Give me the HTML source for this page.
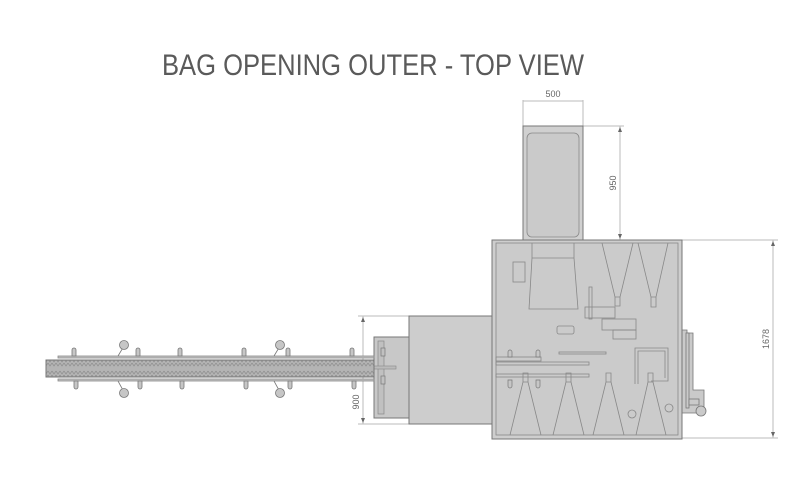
<!DOCTYPE html>
<html><head><meta charset="utf-8"><style>
html,body{margin:0;padding:0;background:#fff;}
svg{display:block;font-family:"Liberation Sans",sans-serif;}
</style></head><body>
<svg width="800" height="499" viewBox="0 0 800 499" xmlns="http://www.w3.org/2000/svg">
<defs>
<pattern id="zz" width="4" height="16" patternUnits="userSpaceOnUse">
<rect width="4" height="16" fill="#b4b4b4"/>
<path d="M0 3 L2 6 L4 3 M0 7 L2 10 L4 7 M0 11 L2 14 L4 11" stroke="#8e8e8e" fill="none" stroke-width="0.7"/>
</pattern>
</defs>
<text x="162" y="75" font-size="30" fill="#5a5a5a" textLength="422" lengthAdjust="spacingAndGlyphs">BAG OPENING OUTER - TOP VIEW</text>

<g stroke="#bbb" stroke-width="1" fill="none">
<line x1="523" y1="100" x2="523" y2="126"/><line x1="583" y1="100" x2="583" y2="126"/>
<line x1="523" y1="101" x2="583" y2="101"/>
<line x1="583" y1="126" x2="624" y2="126"/>
<line x1="620" y1="126" x2="620" y2="240"/>
<line x1="682" y1="240" x2="778" y2="240"/>
<line x1="682" y1="438" x2="778" y2="438"/>
<line x1="773" y1="240" x2="773" y2="438"/>
<line x1="358" y1="316" x2="409" y2="316"/>
<line x1="358" y1="424" x2="409" y2="424"/>
<line x1="363" y1="316" x2="363" y2="424"/>
</g>
<g fill="#666">
<path d="M620 127 l-2 5 h4z"/><path d="M620 239 l-2 -5 h4z"/>
<path d="M773 241 l-2 5 h4z"/><path d="M773 437 l-2 -5 h4z"/>
<path d="M363 317 l-2 5 h4z"/><path d="M363 423 l-2 -5 h4z"/>
</g>
<g font-size="9" fill="#666">
<text x="553" y="97" text-anchor="middle">500</text>
<text transform="translate(616,183) rotate(-90)" text-anchor="middle">950</text>
<text transform="translate(769,339) rotate(-90)" text-anchor="middle">1678</text>
<text transform="translate(359,402) rotate(-90)" text-anchor="middle">900</text>
</g>

<rect x="523" y="126" width="60" height="114" fill="#d0d0d0" stroke="#777"/>
<rect x="527" y="133" width="52" height="104" rx="5" fill="#cacaca" stroke="#888" stroke-width="0.8"/>

<rect x="409" y="316" width="83" height="108" fill="#cdcdcd" stroke="#777"/>
<rect x="374" y="337" width="35" height="81" fill="#c8c8c8" stroke="#777"/>
<rect x="378" y="341" width="6" height="73" fill="#c0c0c0" stroke="#888" stroke-width="0.7"/>
<rect x="381" y="348" width="4" height="8" fill="#c0c0c0" stroke="#777" stroke-width="0.7"/>
<rect x="381" y="376" width="4" height="8" fill="#c0c0c0" stroke="#777" stroke-width="0.7"/>
<rect x="374" y="366" width="22" height="3" fill="#bbb" stroke="#888" stroke-width="0.6"/>

<g stroke="#888" stroke-width="0.8" fill="#c6c6c6">
<rect x="58" y="356" width="316" height="2"/>
<rect x="58" y="379" width="316" height="2"/>
</g>
<rect x="46" y="360" width="328" height="17" fill="url(#zz)" stroke="#777"/>
<g fill="#c6c6c6" stroke="#777" stroke-width="0.8">
<path d="M72 356 v-6 a2 2 0 0 1 4 0 v6z"/><path d="M136 356 v-6 a2 2 0 0 1 4 0 v6z"/><path d="M178 356 v-6 a2 2 0 0 1 4 0 v6z"/><path d="M242 356 v-6 a2 2 0 0 1 4 0 v6z"/><path d="M286 356 v-6 a2 2 0 0 1 4 0 v6z"/><path d="M350 356 v-6 a2 2 0 0 1 4 0 v6z"/>
<path d="M74 381 v6 a2 2 0 0 0 4 0 v-6z"/><path d="M138 381 v6 a2 2 0 0 0 4 0 v-6z"/><path d="M180 381 v6 a2 2 0 0 0 4 0 v-6z"/><path d="M244 381 v6 a2 2 0 0 0 4 0 v-6z"/><path d="M288 381 v6 a2 2 0 0 0 4 0 v-6z"/><path d="M352 381 v6 a2 2 0 0 0 4 0 v-6z"/>
<line x1="118" y1="356" x2="124" y2="346"/><line x1="118" y1="381" x2="124" y2="392"/>
<line x1="274" y1="356" x2="280" y2="346"/><line x1="274" y1="381" x2="280" y2="392"/>
<circle cx="124" cy="345" r="4.5"/><circle cx="124" cy="393" r="4.5"/>
<circle cx="280" cy="345" r="4.5"/><circle cx="280" cy="393" r="4.5"/>
</g>

<g fill="#cacaca" stroke="#777" stroke-width="0.8">
<path d="M682 330 h5 v3 h6 v57 h11 v23 h-22z"/>
<rect x="686" y="333" width="3" height="75"/>
<rect x="689" y="399" width="10" height="6"/>
<circle cx="701" cy="411" r="5"/>
</g>

<rect x="492" y="240" width="190" height="199" fill="#cecece" stroke="#777"/>
<rect x="496" y="243" width="182" height="192" fill="#cbcbcb" stroke="#888" stroke-width="0.8"/>
<g fill="none" stroke="#888" stroke-width="0.8">
<rect x="513" y="262" width="12" height="20"/>
<path d="M532 243 v15 h42 v-15 M532 258 l-3 51 h49 l-4 -51"/>
<path d="M602 243 l13 54 h5 l13 -54 M615 297 v9 h5 v-9"/>
<path d="M638 243 l13 54 h5 l12 -54 M651 297 v10 h5 v-10"/>
<rect x="589" y="287" width="3" height="32"/>
<rect x="585" y="307" width="30" height="11"/>
<rect x="602" y="319" width="34" height="11"/>
<rect x="613" y="330" width="23" height="9"/>
<rect x="557" y="326" width="17" height="8" rx="2"/>
<rect x="559" y="352" width="47" height="2"/>
<rect x="496" y="357" width="45" height="4"/>
<rect x="496" y="362" width="93" height="3"/>
<rect x="496" y="374" width="93" height="3"/>
<path d="M635 384 v-36 h33 v33 h-17"/><path d="M638 384 v-33 h27 v27"/>
<path d="M523 373 h5 v9 h-5z M523 382 l-13 53 M528 382 l13 53"/>
<path d="M566 373 h5 v9 h-5z M566 382 l-13 53 M571 382 l13 53"/>
<path d="M606 373 h5 v9 h-5z M606 382 l-13 53 M611 382 l13 53"/>
<path d="M648 373 h5 v9 h-5z M648 382 l-12 53 M653 382 l13 53"/>
<circle cx="632" cy="414" r="4"/><circle cx="669" cy="408" r="4"/>
</g>
<g fill="#c6c6c6" stroke="#777" stroke-width="0.7">
<path d="M508 357 v-5 a2 2 0 0 1 4 0 v5z"/><path d="M536 357 v-5 a2 2 0 0 1 4 0 v5z"/>
<path d="M508 380 v6 a2 2 0 0 0 4 0 v-6z"/><path d="M536 380 v6 a2 2 0 0 0 4 0 v-6z"/>
</g>
</svg>
</body></html>
